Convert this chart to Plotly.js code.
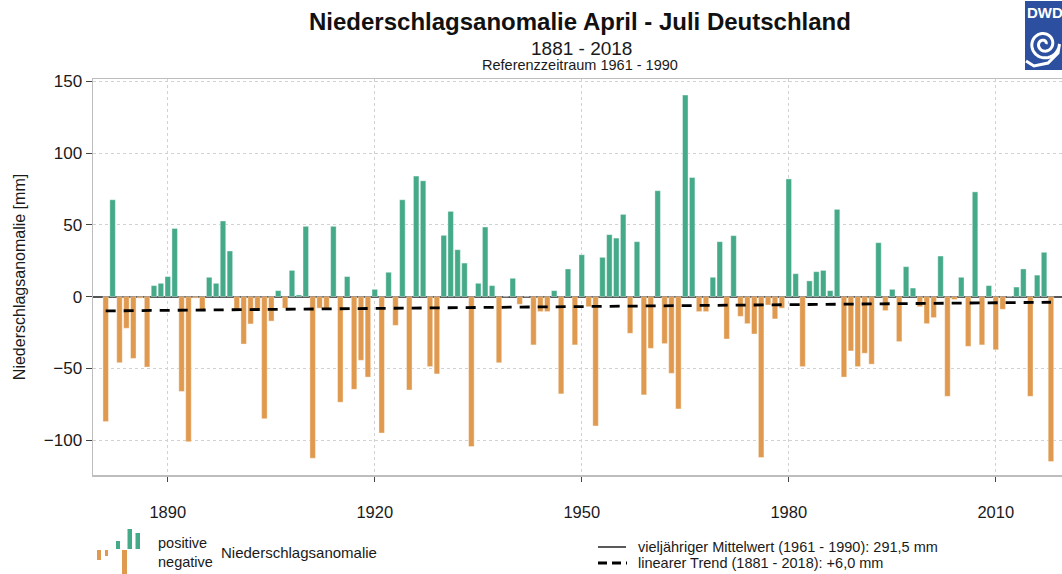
<!DOCTYPE html>
<html>
<head>
<meta charset="utf-8">
<script src="https://cdn.plot.ly/plotly-3.0.1.min.js"></script>
<style>
  html, body { margin: 0; padding: 0; background: #fff; }
  #chart { width: 1062px; height: 574px; }
</style>
</head>
<body>
<div id="chart"></div>
<script>
// ---- data ----
const years = [
  1881,1882,1883,1884,1885,1886,1887,1888,1889,1890,
  1891,1892,1893,1894,1895,1896,1897,1898,1899,1900,
  1901,1902,1903,1904,1905,1906,1907,1908,1909,1910,
  1911,1912,1913,1914,1915,1916,1917,1918,1919,1920,
  1921,1922,1923,1924,1925,1926,1927,1928,1929,1930,
  1931,1932,1933,1934,1935,1936,1937,1938,1939,1940,
  1941,1942,1943,1944,1945,1946,1947,1948,1949,1950,
  1951,1952,1953,1954,1955,1956,1957,1958,1959,1960,
  1961,1962,1963,1964,1965,1966,1967,1968,1969,1970,
  1971,1972,1973,1974,1975,1976,1977,1978,1979,1980,
  1981,1982,1983,1984,1985,1986,1987,1988,1989,1990,
  1991,1992,1993,1994,1995,1996,1997,1998,1999,2000,
  2001,2002,2003,2004,2005,2006,2007,2008,2009,2010,
  2011,2012,2013,2014,2015,2016,2017,2018
];
const anomaly = [
  -87, 67.5, -46, -22, -43, -1, -49, 7.7, 9.3, 14,
  47.5, -66, -101, -1, -10, 13.5, 9.3, 52.7, 31.8, -10,
  -33, -19, -10, -85, -17, 4.2, -8, 18.3, 1.2, 49,
  -112.5, -8, -9, 49, -73.5, 14, -64.5, -44.3, -56, 5.1,
  -95, 17, -20, 67.5, -65, 84, 80.7, -48.7, -53.8, 42.7,
  59.4, 32.7, 23.4, -104.4, 9.3, 48.5, 7.7, -46, 0, 12.8,
  -5.3, 0, -33.6, -10.4, -10.4, 4.2, -67.7, 19.3, -33.6, 29.2,
  -7, -90, 27.4, 43.2, 40.8, 57.3, -25.5, 38.3, -68.4, -36,
  73.8, -32.7, -53.4, -78.2, 140.4, 83, -10.4, -10.4, 13.5, 38.3,
  -29.5, 42.5, -13.7, -18.8, -26, -112, -5.8, -15.5, -8, 82,
  16, -48.7, 11, 17.4, 18.3, 4.2, 60.8, -56, -37.8, -48.7,
  -39.4, -47, 37.6, -9.7, 5.1, -31.3, 20.9, 6, -7, -18.8,
  -14.6, 28.3, -69.4, -2, 13.5, -34.6, 73, -33.6, 7.7, -37,
  -8.8, 0, 6.7, 19.3, -69.4, 15, 30.9, -114.8
];
const trendYears = [1881, 2018];
const trendValues = [-9.9, -3.9];
const xTickVals = [1890, 1920, 1950, 1980, 2010];
const yTickVals = [-100, -50, 0, 50, 100, 150];

const titleText = "Niederschlagsanomalie April - Juli Deutschland";
const subTitle1 = "1881 - 2018";
const subTitle2 = "Referenzzeitraum 1961 - 1990";
const yTitle = "Niederschlagsanomalie [mm]";
const legPositive = "positive";
const legNegative = "negative";
const legAnomaly = "Niederschlagsanomalie";
const legMean = "vieljähriger Mittelwert (1961 - 1990): 291,5 mm";
const legTrend = "linearer Trend (1881 - 2018): +6,0 mm";

// ---- styling ----
const GREEN = "#45aa89";
const ORANGE = "#e09a4f";
const FONT = "Liberation Sans, Arial, sans-serif";
const TXT = "#1a1a1a";

const W = 1062, H = 574;
const M = {l: 93, r: 0, t: 79, b: 99};
const PW = W - M.l - M.r, PH = H - M.t - M.b;
const px = x => (x - M.l) / PW;
const py = y => (H - M.b - y) / PH;

const barColors = anomaly.map(v => v >= 0 ? GREEN : ORANGE);

const traces = [
  {
    type: "bar", x: years, y: anomaly, width: 0.8,
    marker: {color: barColors, line: {color: "rgba(255,255,255,0.55)", width: 0.7}},
    hoverinfo: "skip", showlegend: false
  },
  {
    type: "scatter", mode: "lines", x: trendYears, y: trendValues,
    line: {color: "#000", width: 2.8, dash: "10px,8px"},
    hoverinfo: "skip", showlegend: false
  }
];

const shapes = [];
const rectPx = (x0, x1, y0, y1, color) => shapes.push({
  type: "rect", xref: "paper", yref: "paper",
  x0: px(x0), x1: px(x1), y0: py(y0), y1: py(y1),
  fillcolor: color, line: {width: 0}, layer: "above"
});
// legend icon bars
rectPx(97, 101, 550, 560, ORANGE);
rectPx(105, 108, 550, 556, ORANGE);
rectPx(116, 120, 541, 549, GREEN);
rectPx(122, 127, 550, 574, ORANGE);
rectPx(127.5, 132, 529, 549, GREEN);
rectPx(135.5, 140, 533, 549, GREEN);
// legend lines
shapes.push({type: "line", xref: "paper", yref: "paper",
  x0: px(598), x1: px(626), y0: py(547), y1: py(547),
  line: {color: "#000", width: 1.3}});
shapes.push({type: "line", xref: "paper", yref: "paper",
  x0: px(598), x1: px(627), y0: py(563), y1: py(563),
  line: {color: "#000", width: 2.8, dash: "9px,5px"}});
// DWD logo box
rectPx(1025, 1064, 1, 70, "#2c4f9f");
// spiral (decorative logo)
(function () {
  const cx = 1044, cy = 44;
  let d = "";
  const turns = 2.0, steps = 100;
  for (let i = 0; i <= steps; i++) {
    const t = i / steps;
    const a = t * turns * 2 * Math.PI;
    const r = 2 + t * 13.5;
    const x = cx + r * Math.cos(a);
    const y = cy - r * Math.sin(a);
    d += (i === 0 ? "M" : "L") + px(x).toFixed(5) + "," + py(y).toFixed(5);
  }
  // tail sweeping out towards the lower left
  d += "L" + px(cx + 14).toFixed(5) + "," + py(cy + 9).toFixed(5);
  d += "L" + px(cx + 4).toFixed(5) + "," + py(cy + 19).toFixed(5);
  d += "L" + px(cx - 10).toFixed(5) + "," + py(cy + 22).toFixed(5);
  d += "L" + px(cx - 18).toFixed(5) + "," + py(cy + 17).toFixed(5);
  shapes.push({type: "path", xref: "paper", yref: "paper", path: d,
    line: {color: "#fff", width: 3}, layer: "above"});
})();

const ann = (text, x, y, size, opts = {}) => Object.assign({
  text: text, xref: "paper", yref: "paper", x: px(x), y: py(y),
  xanchor: "center", yanchor: "middle", showarrow: false,
  font: {family: FONT, size: size, color: TXT}
}, opts);

const annotations = [
  ann("<b>" + titleText + "</b>", 580, 22, 24, {font: {family: FONT, size: 24, color: "#111"}}),
  ann(subTitle1, 581, 48, 19),
  ann(subTitle2, 580, 65, 14.5),
  ann(legPositive, 156, 543, 14.5, {xanchor: "left"}),
  ann(legNegative, 156, 562, 14.5, {xanchor: "left"}),
  ann(legAnomaly, 219, 552, 15, {xanchor: "left"}),
  ann(legMean, 636, 547, 14.5, {xanchor: "left"}),
  ann(legTrend, 636, 563, 14.5, {xanchor: "left"}),
  ann("<b>DWD</b>", 1025, 13, 15, {xanchor: "left", font: {family: FONT, size: 15, color: "#fff"}})
];

const layout = {
  width: W, height: H,
  margin: M,
  paper_bgcolor: "#fff", plot_bgcolor: "#fff",
  font: {family: FONT, color: TXT},
  bargap: 0.2,
  showlegend: false,
  xaxis: {
    range: [1879.16, 2019.6],
    tickmode: "array", tickvals: xTickVals,
    showgrid: true, gridcolor: "#d2d2d2", griddash: "dot", gridwidth: 1,
    showline: true, linecolor: "#bdbdbd", linewidth: 1.5, mirror: true,
    ticks: "outside", ticklen: 5, tickcolor: "#444", tickwidth: 1,
    tickfont: {family: FONT, size: 16.5, color: TXT},
    ticklabelstandoff: 17,
    zeroline: false, fixedrange: true
  },
  yaxis: {
    range: [-124.2, 151.6],
    tickmode: "array", tickvals: yTickVals,
    showgrid: true, gridcolor: "#d2d2d2", griddash: "dot", gridwidth: 1,
    showline: true, linecolor: "#bdbdbd", linewidth: 1.5,
    ticks: "outside", ticklen: 6, tickcolor: "#444", tickwidth: 1,
    tickfont: {family: FONT, size: 17, color: TXT},
    zeroline: true, zerolinecolor: "#555", zerolinewidth: 2,
    title: {text: yTitle, font: {family: FONT, size: 16, color: TXT}, standoff: 14},
    fixedrange: true
  },
  shapes: shapes,
  annotations: annotations
};

Plotly.newPlot("chart", traces, layout, {displayModeBar: false, staticPlot: true});
</script>
</body>
</html>
